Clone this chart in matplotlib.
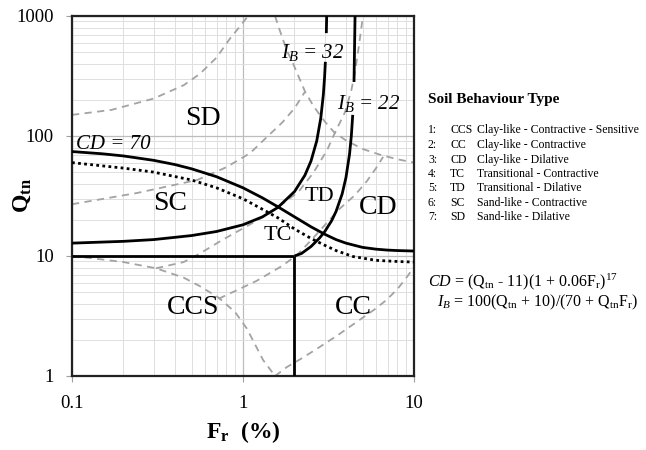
import matplotlib as mpl
import matplotlib.pyplot as plt

mpl.rcParams['font.family'] = 'Liberation Serif'
mpl.rcParams['mathtext.fontset'] = 'custom'
mpl.rcParams['mathtext.rm'] = 'Liberation Serif'
mpl.rcParams['mathtext.it'] = 'Liberation Serif:italic'
mpl.rcParams['mathtext.bf'] = 'Liberation Serif:bold'

# boundary CD = 70
cd_f = [0.1, 0.15, 0.2, 0.3, 0.4, 0.5, 0.7, 1.0, 1.3, 1.6, 2.0, 2.5, 3.0, 3.5, 4.0, 5.0, 6.0, 7.0, 8.0, 10]
cd_q = [74.2, 71.1, 68.2, 62.7, 57.8, 53.3, 45.8, 37.0, 30.5, 25.7, 21.2, 17.5, 15.2, 13.7, 12.8, 11.8, 11.4, 11.2, 11.1, 11.0]

# dotted curve just under CD = 70
dot_f = [0.1, 0.2, 0.3, 0.5, 0.7, 1.0, 1.3, 1.6, 2.0, 2.5, 3.0, 3.5, 4.4, 6.0, 8.0, 10]
dot_q = [60, 54, 50, 43, 37, 30, 24.5, 20.8, 16.8, 14.0, 12.3, 11.1, 9.9, 9.2, 9.0, 8.9]

# I_B = 32 (broken for its label)
ib32_f_lo = [0.1, 0.2, 0.3, 0.5, 0.7, 1.0, 1.3, 1.6, 2.0, 2.3, 2.5, 2.7, 2.85, 2.95, 3.0, 3.032]
ib32_q_lo = [12.8, 13.25, 13.7, 14.8, 16.0, 18.2, 21.2, 25.4, 34.4, 47.0, 62.0, 91.2, 141, 221, 310, 415]
ib32_f_hi = [3.071, 3.086]
ib32_q_hi = [720, 1000]

# I_B = 22 (broken for its label)
ib22_f_lo = [2.0, 2.2, 2.5, 2.8, 3.0, 3.3, 3.5, 3.8, 4.0, 4.2, 4.3, 4.382]
ib22_q_lo = [10.0, 10.5, 12.0, 14.1, 15.9, 19.7, 23.5, 32.9, 45, 71, 100, 150]
ib22_f_hi = [4.458, 4.521]
ib22_q_hi = [282, 1000]

# CC / CCS split
q10_f = [0.1, 2.0]
q10_q = [10, 10]
f2_f = [2.0, 2.0]
f2_q = [1, 10]

# older zone boundaries (grey dashed)
d1_f = [0.1, 0.17, 0.3, 0.45, 0.56, 0.7, 0.84, 0.96, 1.07]
d1_q = [150, 165, 205, 265, 330, 450, 650, 820, 1000]
d2_f = [0.1, 0.24, 0.54, 0.8, 1.1, 1.4, 1.7, 2.0, 2.3]
d2_q = [27, 33.5, 43, 55, 72, 100, 130, 170, 233]
d3_f = [1.54, 1.64, 1.8, 1.95, 2.31, 2.6, 3.02, 3.4, 3.95, 5.0, 6.5, 8.0, 10]
d3_q = [1000, 760, 520, 410, 233, 175, 131, 108, 93, 78, 69, 64, 60]
d5_f = [0.31, 0.45, 0.56, 0.75, 1.0, 1.44, 2.1, 2.57, 3.1, 3.4, 3.95, 4.3, 4.52, 4.75, 5.03]
d5_q = [7.9, 8.9, 10.5, 13.5, 17, 22.8, 34, 49, 76, 102, 158, 240, 341, 550, 1000]
d6_f = [0.72, 1.2, 1.7, 2.07, 2.5, 3.0, 3.7, 4.5, 5.3, 6.0, 6.6]
d6_q = [4.4, 6.2, 8.3, 10.2, 13.5, 18, 25, 32, 42, 54, 67]
d7_f = [0.1, 0.146, 0.2, 0.31, 0.45, 0.56, 0.72, 0.9, 1.05, 1.14, 1.31, 1.54]
d7_q = [10, 9.4, 8.9, 7.9, 6.6, 5.6, 4.5, 3.4, 2.5, 2.0, 1.36, 1.0]
d8_f = [1.54, 1.81, 2.2, 2.8, 3.6, 4.8, 5.9, 6.9, 8.0, 9.1, 10]
d8_q = [1.0, 1.19, 1.4, 1.74, 2.2, 2.93, 3.6, 4.3, 5.3, 6.7, 8.1]

zones = ['SD', 'SC', 'CCS', 'CD', 'CC', 'TC', 'TD']
zone_f = [0.58, 0.374, 0.51, 6.15, 4.4, 1.6, 2.78]
zone_q = [141, 27.6, 3.7, 25.6, 3.7, 14.7, 31.6]
zone_size = [20, 20, 20, 20, 20, 16, 16]

legend_rows = [
    ('1:', 'CCS', 'Clay-like - Contractive - Sensitive'),
    ('2:', 'CC', 'Clay-like - Contractive'),
    ('3:', 'CD', 'Clay-like - Dilative'),
    ('4:', 'TC', 'Transitional - Contractive'),
    ('5:', 'TD', 'Transitional - Dilative'),
    ('6:', 'SC', 'Sand-like - Contractive'),
    ('7:', 'SD', 'Sand-like - Dilative'),
]

fig = plt.figure(figsize=(6.46, 4.5), dpi=100)
ax = fig.add_axes([72 / 646, 1 - 376 / 450, 342 / 646, 360 / 450])
ax.set_xscale('log')
ax.set_yscale('log')
ax.set_xlim(0.1, 10)
ax.set_ylim(1, 1000)

ax.grid(True, which='minor', color='#dedede', lw=0.7)
ax.grid(True, which='major', color='#bdbdbd', lw=0.9)
ax.set_axisbelow(True)

dash = dict(color='#a3a3a3', lw=1.3, ls=(0, (4, 3)), zorder=2)
for f, q in [(d1_f, d1_q), (d2_f, d2_q), (d3_f, d3_q), (d5_f, d5_q),
             (d6_f, d6_q), (d7_f, d7_q), (d8_f, d8_q)]:
    ax.plot(f, q, **dash)

solid = dict(color='black', lw=2.0, zorder=4, solid_capstyle='butt')
ax.plot(cd_f, cd_q, **solid)
ax.plot(ib32_f_lo, ib32_q_lo, **solid)
ax.plot(ib32_f_hi, ib32_q_hi, **solid)
ax.plot(ib22_f_lo, ib22_q_lo, **solid)
ax.plot(ib22_f_hi, ib22_q_hi, **solid)
ax.plot(q10_f, q10_q, **solid)
ax.plot(f2_f, f2_q, **solid)
ax.plot(dot_f, dot_q, color='black', lw=2.0, ls=(0, (1, 1.2)), zorder=3)

for name, f, q, s in zip(zones, zone_f, zone_q, zone_size):
    ax.text(f, q, name, fontsize=s, ha='center', va='center', zorder=5)

ax.text(0.105, 85, 'CD = 70', fontsize=15, style='italic', ha='left', va='center', zorder=5)
ax.text(2.54, 492, r'$I_B$ = 32', fontsize=15, style='italic', ha='center', va='center', zorder=5)
ax.text(5.45, 188, r'$I_B$ = 22', fontsize=15, style='italic', ha='center', va='center', zorder=5)

ax.set_xticks([0.1, 1, 10])
ax.set_xticklabels(['0.1', '1', '10'])
ax.set_yticks([1, 10, 100, 1000])
ax.set_yticklabels(['1', '10', '100', '1000'])
ax.tick_params(which='major', direction='out', length=4, color='#a0a0a0', labelsize=13.5)
ax.tick_params(axis='x', pad=10)
ax.tick_params(axis='y', pad=9)
ax.tick_params(which='minor', length=0)
for sp in ax.spines.values():
    sp.set_linewidth(1.6)
    sp.set_color('#222222')

ax.set_xlabel(r'$\mathbf{F}_{\mathbf{r}}$  (%)', fontsize=17, fontweight='bold', labelpad=5)
ax.set_ylabel(r'$\mathbf{Q}_{\mathbf{tn}}$', fontsize=17)
ax.yaxis.set_label_coords(-0.115, 0.5)

# legend block on the right
fig.text(428 / 646, 1 - 99 / 450, 'Soil Behaviour Type', fontsize=11, fontweight='bold', va='center')
row_y = [130, 145, 160, 174, 188, 203, 217]
for (num, code, desc), y in zip(legend_rows, row_y):
    fig.text(428 / 646, 1 - y / 450, num, fontsize=8.5, va='center')
    fig.text(450 / 646, 1 - y / 450, code, fontsize=8.5, va='center')
    fig.text(477 / 646, 1 - y / 450, desc, fontsize=8.5, va='center')

fig.text(428 / 646, 1 - 282 / 450, r'$CD$ = (Q$_{\rm tn}$ - 11)(1 + 0.06F$_{\rm r}$)$^{17}$',
         fontsize=11.5, va='center')
fig.text(437 / 646, 1 - 302 / 450, r'$I_B$ = 100(Q$_{\rm tn}$ + 10)/(70 + Q$_{\rm tn}$F$_{\rm r}$)',
         fontsize=11.5, va='center')

fig.savefig('out.png', dpi=100)
